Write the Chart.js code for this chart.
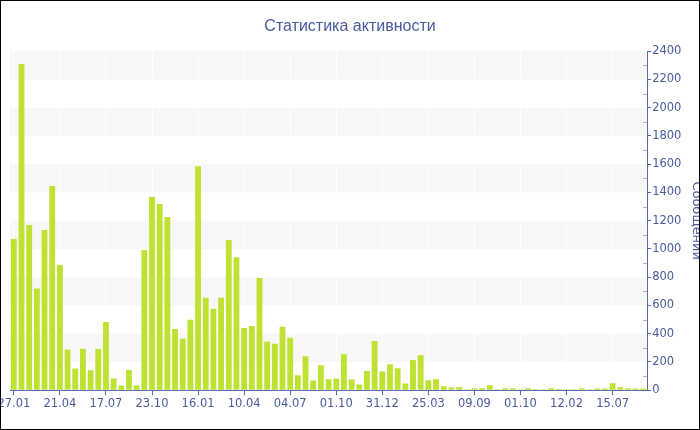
<!DOCTYPE html>
<html>
<head>
<meta charset="utf-8">
<title>Статистика активности</title>
<script src="https://cdn.jsdelivr.net/npm/chart.js@4.4.1/dist/chart.umd.min.js"></script>
<style>
    body { margin: 0; background: #fff; }
    #wrap { position: relative; width: 700px; height: 430px; overflow: hidden; }
    #box { position: absolute; left: 0; top: 0; width: 704px; height: 430px; }
    #frame { position: absolute; left: 0; top: 0; width: 700px; height: 430px;
             box-sizing: border-box; border: 1px solid #000; pointer-events: none; }
</style>
</head>
<body>
<div id="wrap">
    <div id="box"><canvas id="activityChart"></canvas></div>
    <div id="frame"></div>
</div>
<script>
// tick labels under the x axis, one every 6 bars
const tickLabels = ['27.01', '21.04', '17.07', '23.10', '16.01', '10.04', '04.07',
                    '01.10', '31.12', '25.03', '09.09', '01.10', '12.02', '15.07'];
const labelEvery = 6;

// messages per period
const messages = [
    1070, 2310, 1170, 720, 1135, 1445, 887, 289, 153, 294, 141, 292,
    482, 82, 33, 143, 33, 993, 1367, 1318, 1226, 433, 365, 499,
    1586, 654, 576, 654, 1064, 941, 440, 454, 795, 344, 329, 449,
    372, 106, 240, 68, 176, 78, 82, 254, 75, 40, 136, 348,
    133, 184, 155, 47, 214, 247, 71, 78, 28, 19, 21, 7,
    14, 14, 35, 7, 14, 14, 7, 14, 7, 7, 14, 9,
    7, 7, 14, 7, 12, 12, 49, 21, 14, 12, 12
];

const yMax = 2400;
const yStep = 200;

const categories = messages.map((v, i) => i % labelEvery === 0 ? tickLabels[i / labelEvery] : '');

const textColor = '#4a5a9e';
const axisColor = '#5b6aaa';
const fontFamily = '"DejaVu Sans", Verdana, sans-serif';

// Alternating grey bands behind the bars
const bandsPlugin = {
    id: 'bands',
    beforeDraw(chart) {
        const { ctx, chartArea: a, scales: { y } } = chart;
        ctx.save();
        ctx.fillStyle = '#f7f7f7';
        for (let v = yStep; v < yMax; v += yStep * 2) {
            const top = y.getPixelForValue(v + yStep);
            const bottom = y.getPixelForValue(v);
            ctx.fillRect(a.left, top, a.right - a.left, bottom - top);
        }
        ctx.restore();
    }
};

// small inner ticks between the labelled ones on the right axis
const minorTicksPlugin = {
    id: 'minorTicks',
    afterDatasetsDraw(chart) {
        const { ctx, chartArea: a, scales: { y } } = chart;
        ctx.save();
        ctx.strokeStyle = '#a8afc8';
        ctx.lineWidth = 1;
        ctx.beginPath();
        for (let v = yStep / 2; v < yMax; v += yStep) {
            const py = Math.round(y.getPixelForValue(v)) + 0.5;
            ctx.moveTo(a.right - 4, py);
            ctx.lineTo(a.right, py);
        }
        ctx.stroke();
        ctx.restore();
    }
};

new Chart(document.getElementById('activityChart'), {
    type: 'bar',
    data: {
        labels: categories,
        datasets: [{
            label: 'Сообщений',
            data: messages,
            backgroundColor: '#bde232',
            barPercentage: 0.76,
            categoryPercentage: 1.0
        }]
    },
    options: {
        responsive: true,
        maintainAspectRatio: false,
        animation: false,
        layout: { padding: { left: -4, right: 0, top: 0, bottom: 17 } },
        plugins: {
            legend: { display: false },
            tooltip: { enabled: true },
            title: {
                display: true,
                text: 'Статистика активности',
                color: textColor,
                font: { family: '"Liberation Sans", Arial, sans-serif', size: 16, weight: 'normal' },
                padding: { top: 17, bottom: 15 }
            }
        },
        scales: {
            x: {
                offset: true,
                afterFit(scale) {
                    // fixed left gap, the first label runs off the edge
                    scale.paddingLeft = 10;
                    scale.paddingRight = 0;
                },
                border: { color: axisColor, width: 1 },
                grid: {
                    offset: false,
                    tickLength: 5,
                    color: ctx => ctx.index % labelEvery === 0 ? 'rgba(255,255,255,0.8)' : 'rgba(0,0,0,0)',
                    tickColor: ctx => ctx.index % labelEvery === 0 ? axisColor : 'rgba(0,0,0,0)'
                },
                ticks: {
                    autoSkip: false,
                    maxRotation: 0,
                    minRotation: 0,
                    padding: 2,
                    color: textColor,
                    font: { family: fontFamily, size: 11.5 }
                }
            },
            y: {
                position: 'right',
                min: 0,
                max: yMax,
                border: { color: axisColor, width: 1 },
                grid: {
                    drawOnChartArea: false,
                    tickLength: 4,
                    tickColor: axisColor
                },
                ticks: {
                    stepSize: yStep,
                    padding: 1,
                    color: textColor,
                    font: { family: fontFamily, size: 11.5 },
                    callback: value => String(value)
                },
                title: {
                    display: true,
                    text: 'Сообщений',
                    color: textColor,
                    font: { family: fontFamily, size: 13 },
                    padding: { top: 0, bottom: 6 }
                }
            }
        }
    },
    plugins: [bandsPlugin, minorTicksPlugin]
});
</script>
</body>
</html>
